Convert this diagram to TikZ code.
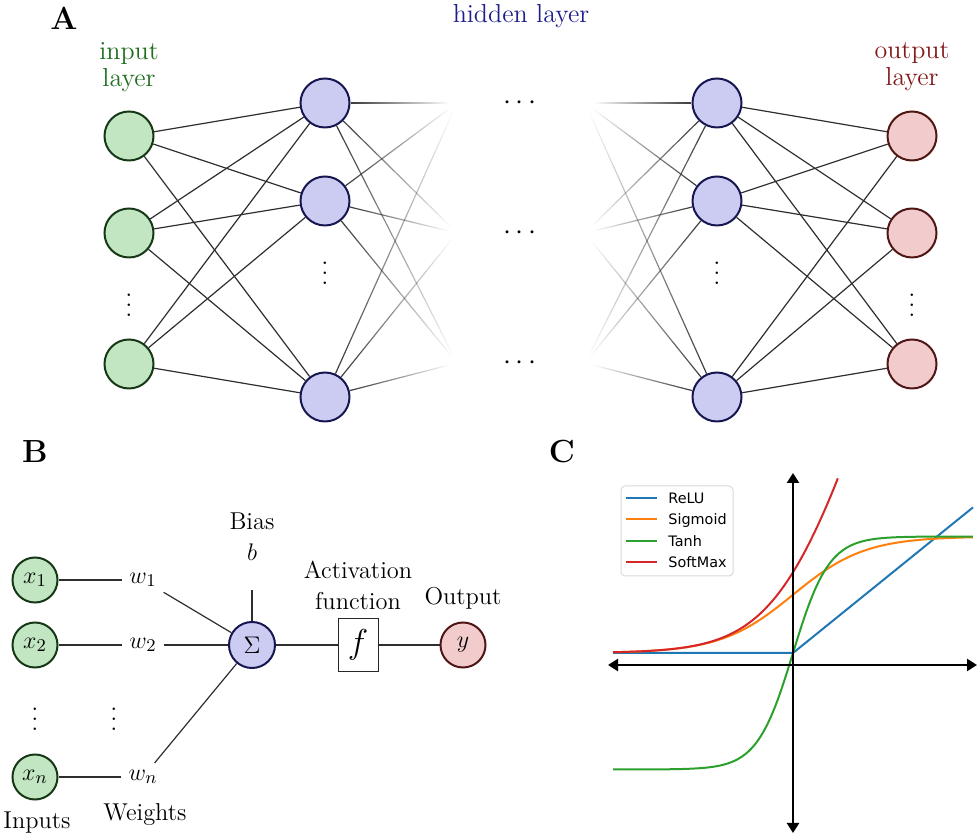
\documentclass[tikz,border=0pt]{standalone}
\usepackage{fontspec}
\newfontfamily\legfont{DejaVu Sans}
\usetikzlibrary{calc,arrows.meta,fadings}
\definecolor{ingreen}{RGB}{193,230,193}
\definecolor{ingreenD}{RGB}{22,56,22}
\definecolor{hidblue}{RGB}{204,204,242}
\definecolor{hidblueD}{RGB}{22,22,80}
\definecolor{outred}{RGB}{242,204,204}
\definecolor{outredD}{RGB}{80,22,22}
\definecolor{txtgreen}{RGB}{30,110,30}
\definecolor{txtblue}{RGB}{30,30,140}
\definecolor{txtred}{RGB}{130,25,25}
\definecolor{mplblue}{HTML}{1F77B4}
\definecolor{mplorange}{HTML}{FF7F0E}
\definecolor{mplgreen}{HTML}{2CA02C}
\definecolor{mplred}{HTML}{D62728}
\tikzfading[name=fadeR, left color=transparent!5, right color=transparent!100]
\tikzfading[name=fadeL, left color=transparent!100, right color=transparent!5]
\newcommand\myvdots{\vbox{\baselineskip5pt\lineskiplimit0pt\hbox{.}\hbox{.}\hbox{.}}}
\begin{document}
\begin{tikzpicture}[x=0.5pt,y=-0.5pt,
  neuron/.style={circle, line width=1pt, inner sep=0pt, minimum size=24.5pt},
  inA/.style={neuron, draw=ingreenD, fill=ingreen},
  hidA/.style={neuron, draw=hidblueD, fill=hidblue},
  outA/.style={neuron, draw=outredD, fill=outred},
  inB/.style={inA, minimum size=22.5pt, font=\fontsize{12.2}{14}\selectfont},
  hidB/.style={hidA, minimum size=23pt, font=\fontsize{12.2}{14}\selectfont},
  outB/.style={outA, minimum size=22.5pt, font=\fontsize{12.2}{14}\selectfont},
  conn/.style={draw=black!82, line width=0.6pt},
  fadeline/.style={fill=black!82},
  fontA/.style={font=\fontsize{13}{13.5}\selectfont, inner sep=0pt, align=center},
  fontB/.style={font=\fontsize{12.2}{15.5}\selectfont},
  panel/.style={font=\fontsize{16}{16}\selectfont\bfseries, inner sep=0pt},
  vd/.style={inner sep=0pt, font=\fontsize{13}{13}\selectfont},
  cd/.style={inner sep=0pt, font=\fontsize{14}{14}\selectfont},
  leg/.style={font=\legfont\fontsize{7.2}{8}\selectfont, inner sep=0pt, anchor=base west},
  plt/.style={line width=1pt},
]
\useasboundingbox (0,0) rectangle (980,838);

% ================= Panel A =================
\node[panel] (labA) at (64,18) {A};
\node[fontA, text=txtgreen] (inlab) at (129,67) {input\\layer};
\node[fontA, text=txtblue] (hidlab) at (521,16) {hidden layer};
\node[fontA, text=txtred] (outlab) at (912,67) {output\\layer};

\node[inA] (i1) at (129,136) {};
\node[inA] (i2) at (129,233) {};
\node[inA] (i3) at (129,364) {};
\node[hidA] (h1) at (325,103) {};
\node[hidA] (h2) at (325,201) {};
\node[hidA] (h3) at (325,397) {};
\node[hidA] (k1) at (717,103) {};
\node[hidA] (k2) at (717,201) {};
\node[hidA] (k3) at (717,397) {};
\node[outA] (o1) at (912,136) {};
\node[outA] (o2) at (912,233) {};
\node[outA] (o3) at (912,364) {};

\node[vd] (id) at (129,305) {\myvdots};
\node[vd] (hd) at (325,273) {\myvdots};
\node[vd] (kd) at (717,273) {\myvdots};
\node[vd] (od) at (912,305) {\myvdots};

\node[cd] (c1) at (520,103) {$\cdots$};
\node[cd] (c2) at (520,233) {$\cdots$};
\node[cd] (c3) at (520,363) {$\cdots$};

\coordinate (v1) at (457,103);
\coordinate (v2) at (457,233);
\coordinate (v3) at (457,363);
\coordinate (u1) at (585,103);
\coordinate (u2) at (585,233);
\coordinate (u3) at (585,363);

\foreach \i in {1,2,3}{
  \foreach \j in {1,2,3}{
    \draw[conn] (i\i) -- (h\j);
    \draw[conn] (k\i) -- (o\j);
  }
}
% fading connections (thin filled strips with a horizontal fading)
\foreach \i in {1,2,3}{
  \foreach \j in {1,2,3}{
    \coordinate (S) at ($(h\i)!12.8pt!(v\j)$);
    \coordinate (E) at ($(v\j)!4pt!(h\i)$);
    \fill[fadeline, path fading=fadeR]
      ($(S)!0.3pt!90:(E)$) -- ($(S)!0.3pt!-90:(E)$) --
      ($(E)!0.3pt!90:(S)$) -- ($(E)!0.3pt!-90:(S)$) -- cycle;
    \coordinate (S2) at ($(k\i)!12.8pt!(u\j)$);
    \coordinate (E2) at ($(u\j)!4pt!(k\i)$);
    \fill[fadeline, path fading=fadeL]
      ($(S2)!0.3pt!90:(E2)$) -- ($(S2)!0.3pt!-90:(E2)$) --
      ($(E2)!0.3pt!90:(S2)$) -- ($(E2)!0.3pt!-90:(S2)$) -- cycle;
  }
}

% ================= Panel B =================
\node[panel] (labB) at (35,452) {B};
\node[inB] (x1) at (35,580) {$x_1$};
\node[inB] (x2) at (35,645) {$x_2$};
\node[inB] (xn) at (35,777) {$x_n$};
\node[vd] (xd) at (35,719) {\myvdots};
\node[fontB] (w1) at (143,580) {$w_1$};
\node[fontB] (w2) at (143,645) {$w_2$};
\node[fontB] (wn) at (143,777) {$w_n$};
\node[vd] (wd) at (114,719) {\myvdots};
\node[hidB] (sig) at (252,645) {$\Sigma$};
\node[fontB, align=center, inner sep=0pt] (bias) at (252,537) {Bias\\$b$};
\coordinate (bt) at (252,590);
\node[fontB, align=center, inner sep=0pt] (act) at (358,585) {Activation\\function};
\node[draw=black!85, line width=0.5pt, minimum width=20pt, minimum height=26.5pt, inner sep=0pt, font=\fontsize{19}{19}\selectfont] (fbox) at (358,645) {$f$};
\node[fontB, inner sep=0pt] (outl) at (463,598) {Output};
\node[outB] (yy) at (463,645) {$y$};
\node[fontB, inner sep=0pt] (inputs) at (37,823) {Inputs};
\node[fontB, inner sep=0pt] (weights) at (145,815) {Weights};

\draw[conn] (x1) -- (w1);
\draw[conn] (x2) -- (w2);
\draw[conn] (xn) -- (wn);
\draw[conn] (w1) -- (sig);
\draw[conn] (w2) -- (sig);
\draw[conn] (wn) -- (sig);
\draw[conn] (bt) -- (sig);
\draw[conn] (sig) -- (fbox);
\draw[conn] (fbox) -- (yy);

% ================= Panel C =================
\node[panel] (labC) at (562,452) {C};
\begin{scope}[shift={(793,653)}, x=18pt, y=58.25pt]
  \draw[plt, mplblue] (-5,0) -- (0,0) -- (5,1.25);
  \draw[plt, mplorange] plot[domain=-5:5, samples=120, smooth] (\x, {1/(1+exp(-\x))});
  \draw[plt, mplgreen] plot[domain=-5:5, samples=160, smooth] (\x, {tanh(\x)});
  \draw[plt, mplred] plot[domain=-5:1.247, samples=120, smooth] (\x, {ln(1+exp(\x))});
\end{scope}
\coordinate (axL) at (608,665);
\coordinate (axR) at (977,665);
\coordinate (axT) at (793,473);
\coordinate (axB) at (793,833);
\draw[line width=1.2pt, {Triangle[length=5pt,width=6pt]}-{Triangle[length=5pt,width=6pt]}] (axL) -- (axR);
\draw[line width=1.2pt, {Triangle[length=5pt,width=6pt]}-{Triangle[length=5pt,width=6pt]}] (axB) -- (axT);

% legend
\draw[draw=black!15, fill=white, line width=0.5pt, rounded corners=2pt] (621,486) rectangle (733,576);
\draw[plt, mplblue] (626,498) -- (657,498);
\draw[plt, mplorange] (626,519) -- (657,519);
\draw[plt, mplgreen] (626,541) -- (657,541);
\draw[plt, mplred] (626,562) -- (657,562);
\node[leg] (lrelu) at (668,503.3) {ReLU};
\node[leg] (lsig) at (668,524.3) {Sigmoid};
\node[leg] (ltanh) at (668,546.3) {Tanh};
\node[leg] (lsoft) at (668,567.3) {SoftMax};
\end{tikzpicture}
\end{document}
